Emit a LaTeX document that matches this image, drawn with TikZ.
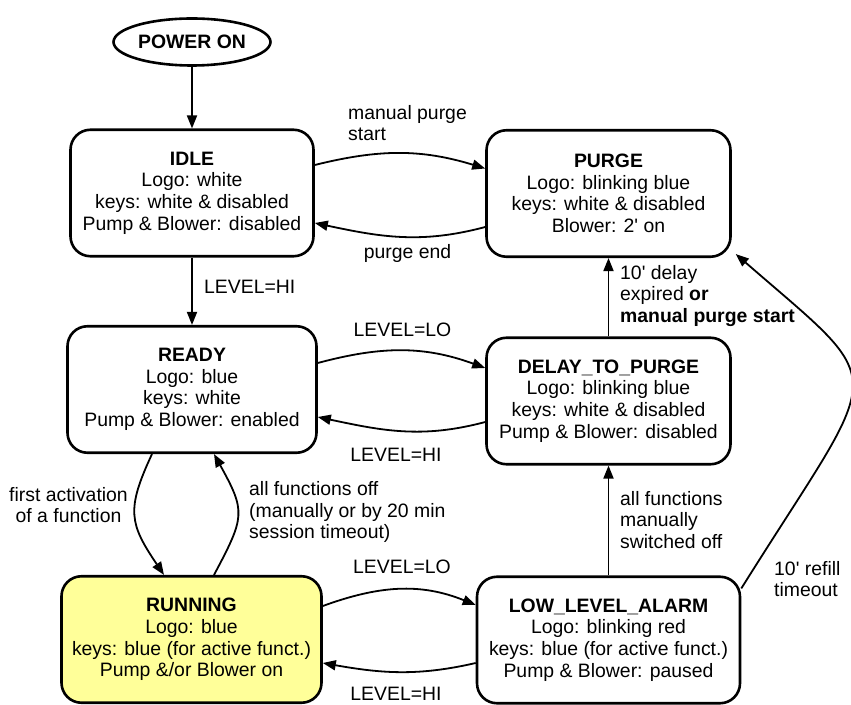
\documentclass[tikz,border=0pt]{standalone}
\usepackage{fontspec}
\setmainfont{Liberation Sans}[Ligatures=TeXOff]
\usetikzlibrary{arrows.meta,shapes.geometric}
\definecolor{runyellow}{RGB}{255,255,153}
\newcommand{\statefont}{\fontsize{19.4}{21.6}\selectfont}

\begin{document}
\begin{tikzpicture}[
    x=1pt, y=1pt,
    statebox/.style={rectangle,rounded corners=20pt,draw,line width=2.6pt,align=center,minimum height=126.5pt,inner sep=0pt},
    startbox/.style={ellipse,draw,line width=2.6pt,minimum width=157pt,minimum height=47pt,inner sep=0pt,font=\statefont\bfseries},
    trans/.style={line width=1.8pt,-{Triangle[length=13pt,width=10pt]}},
    lbl/.style={inner sep=0pt,align=left},
    every node/.style={font=\statefont}
]
\useasboundingbox (0,0) rectangle (851,704);

% Start
\node[startbox] (power) at (192,662) {POWER ON};

% States
\node[statebox,minimum width=243pt] (idle) at (192,511) {\textbf{IDLE}\\Logo: white\\keys: white \& disabled\\Pump \& Blower: disabled};
\node[statebox,minimum width=244pt] (purge) at (608.5,510.5) {\textbf{PURGE}\\Logo: blinking blue\\keys: white \& disabled\\Blower: 2' on};
\node[statebox,minimum width=249pt] (ready) at (192,314.5) {\textbf{READY}\\Logo: blue\\keys: white\\Pump \& Blower: enabled};
\node[statebox,minimum width=244pt] (delay) at (608.5,303) {\textbf{DELAY\_TO\_PURGE}\\Logo: blinking blue\\keys: white \& disabled\\Pump \& Blower: disabled};
\node[statebox,minimum width=260pt,fill=runyellow] (running) at (191.5,64.5) {\textbf{RUNNING}\\Logo: blue\\keys: blue (for active funct.)\\Pump \&/or Blower on};
\node[statebox,minimum width=263pt] (alarm) at (608.5,64) {\textbf{LOW\_LEVEL\_ALARM}\\Logo: blinking red\\keys: blue (for active funct.)\\Pump \& Blower: paused};

% Labels
\node[lbl,anchor=west] (lstart) at (348,581) {manual purge\\start};
\node[lbl] (lend) at (407.5,451) {purge end};
\node[lbl,anchor=west] (lhi1) at (204,417) {LEVEL=HI};
\node[lbl] (llo1) at (402.5,374) {LEVEL=LO};
\node[lbl] (lhi2) at (396,249) {LEVEL=HI};
\node[lbl,anchor=west] (ldelay) at (620,408) {10' delay\\expired \textbf{or}\\\textbf{manual purge start}};
\node[lbl,anchor=west] (loff) at (620,184) {all functions\\manually\\switched off};
\node[lbl,anchor=west] (lrefill) at (774,125) {10' refill\\timeout};
\node[lbl,align=center] (lfirst) at (68.5,199) {first activation\\of a function};
\node[lbl,anchor=west] (lallof) at (249,192) {all functions off\\(manually or by 20 min\\session timeout)};
\node[lbl] (llo2) at (402,137) {LEVEL=LO};
\node[lbl] (lhi3) at (396,10) {LEVEL=HI};

% Transitions
\draw[trans] (power) -- (idle);
\draw[trans] ([yshift=28pt]idle.east) to[out=14,in=163] ([yshift=25pt]purge.west);
\draw[trans] ([yshift=-33.5pt]purge.west) to[out=195,in=-12] ([yshift=-30pt]idle.east);
\draw[trans] (idle) -- (ready);
\draw[trans] ([yshift=26.5pt]ready.east) to[out=15,in=160] ([yshift=33pt]delay.west);
\draw[trans] ([yshift=-21pt]delay.west) to[out=195,in=-12] ([yshift=-27.5pt]ready.east);
\draw[trans] (delay) -- (purge);
\draw[trans] (alarm) -- (delay);
\draw[trans] ([xshift=-40pt]ready.south) to[out=245,in=124,looseness=1.3] ([xshift=-27.5pt]running.north);
\draw[trans] ([xshift=22.5pt]running.north) to[out=62,in=-61,looseness=1.4] ([xshift=22pt]ready.south);
\draw[trans] ([yshift=33.5pt]running.east) to[out=20,in=158] ([yshift=35pt]alarm.west);
\draw[trans] ([yshift=-23pt]alarm.west) to[out=193,in=-10] ([yshift=-23.5pt]running.east);
\draw[trans] ([yshift=-13pt]alarm.north east) to[out=58,in=-41,out distance=270pt,in distance=210pt] ([xshift=4pt,yshift=4pt]purge.south east);

\end{tikzpicture}
\end{document}
